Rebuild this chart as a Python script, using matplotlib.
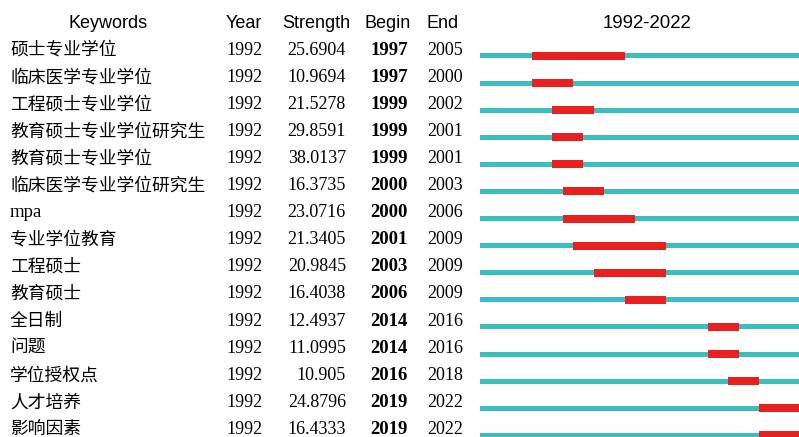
import numpy as np
import matplotlib.pyplot as plt
import matplotlib.transforms as mtransforms

keywords = ['硕士专业学位', '临床医学专业学位', '工程硕士专业学位', '教育硕士专业学位研究生',
            '教育硕士专业学位', '临床医学专业学位研究生', 'mpa', '专业学位教育', '工程硕士',
            '教育硕士', '全日制', '问题', '学位授权点', '人才培养', '影响因素']
year = [1992] * 15
strength = ['25.6904', '10.9694', '21.5278', '29.8591', '38.0137', '16.3735', '23.0716',
            '21.3405', '20.9845', '16.4038', '12.4937', '11.0995', '10.905', '24.8796', '16.4333']
begin = [1997, 1997, 1999, 1999, 1999, 2000, 2000, 2001, 2003, 2006, 2014, 2014, 2016, 2019, 2019]
end = [2005, 2000, 2002, 2001, 2001, 2003, 2006, 2009, 2009, 2009, 2016, 2016, 2018, 2022, 2022]
start_year, end_year = 1992, 2022

W, H = 799, 437
fig = plt.figure(figsize=(W / 100, H / 100), dpi=100)

#行坐标: 第i行文字中心在 50+27.1*i 像素
row_h = 27.1
y_top = -50 / row_h
y_bot = (H - 50) / row_h

ax = fig.add_axes([0, 0, 1, 1])
ax.set_xlim(0, W)
ax.set_ylim(y_bot, y_top)
ax.axis('off')

cjk = ['Noto Sans CJK SC', 'DejaVu Sans']
serif = 'Liberation Serif'
sans = 'Liberation Sans'

#表头
hy = -1 + 0.04
ax.text(108, hy, 'Keywords', family=sans, fontsize=13, ha='center', va='center')
ax.text(244, hy, 'Year', family=sans, fontsize=13, ha='center', va='center')
ax.text(316, hy, 'Strength', family=sans, fontsize=13, ha='center', va='center')
ax.text(388, hy, 'Begin', family=sans, fontsize=13, ha='center', va='center')
ax.text(443, hy, 'End', family=sans, fontsize=13, ha='center', va='center')
ax.text(647, hy, '%d-%d' % (start_year, end_year), family=sans, fontsize=13.4,
        ha='center', va='center')

for i in range(len(keywords)):
    if keywords[i] == 'mpa':
        ax.text(10, i, keywords[i], family=serif, fontsize=13.5, ha='left', va='center')
    else:
        ax.text(10, i, keywords[i], family=cjk, fontsize=12.8, weight='light',
                ha='left', va='center')
    ax.text(244, i, str(year[i]), family=serif, fontsize=13, ha='center', va='center')
    ax.text(346, i, strength[i], family=serif, fontsize=13, ha='right', va='center')
    ax.text(389, i, str(begin[i]), family=serif, fontsize=13.5, weight='bold',
            ha='center', va='center')
    ax.text(445, i, str(end[i]), family=serif, fontsize=13, ha='center', va='center')

#时间线
px_per_year = 10.35
x0 = 480
tax = fig.add_axes([x0 / W, 0, 1 - x0 / W, 1])
tax.set_xlim(start_year, start_year + (W - x0) / px_per_year)
tax.set_ylim(y_bot, y_top)
tax.axis('off')

rows = np.arange(len(keywords)) + 0.22
tax.barh(rows, end_year + 1 - start_year, left=start_year, height=5 / row_h,
         color='#3dbdbd', edgecolor='none')
tax.barh(rows, np.array(end) + 1 - np.array(begin), left=begin, height=8 / row_h,
         color='#e8201f', edgecolor='none')

plt.savefig('out.png', dpi=100)
